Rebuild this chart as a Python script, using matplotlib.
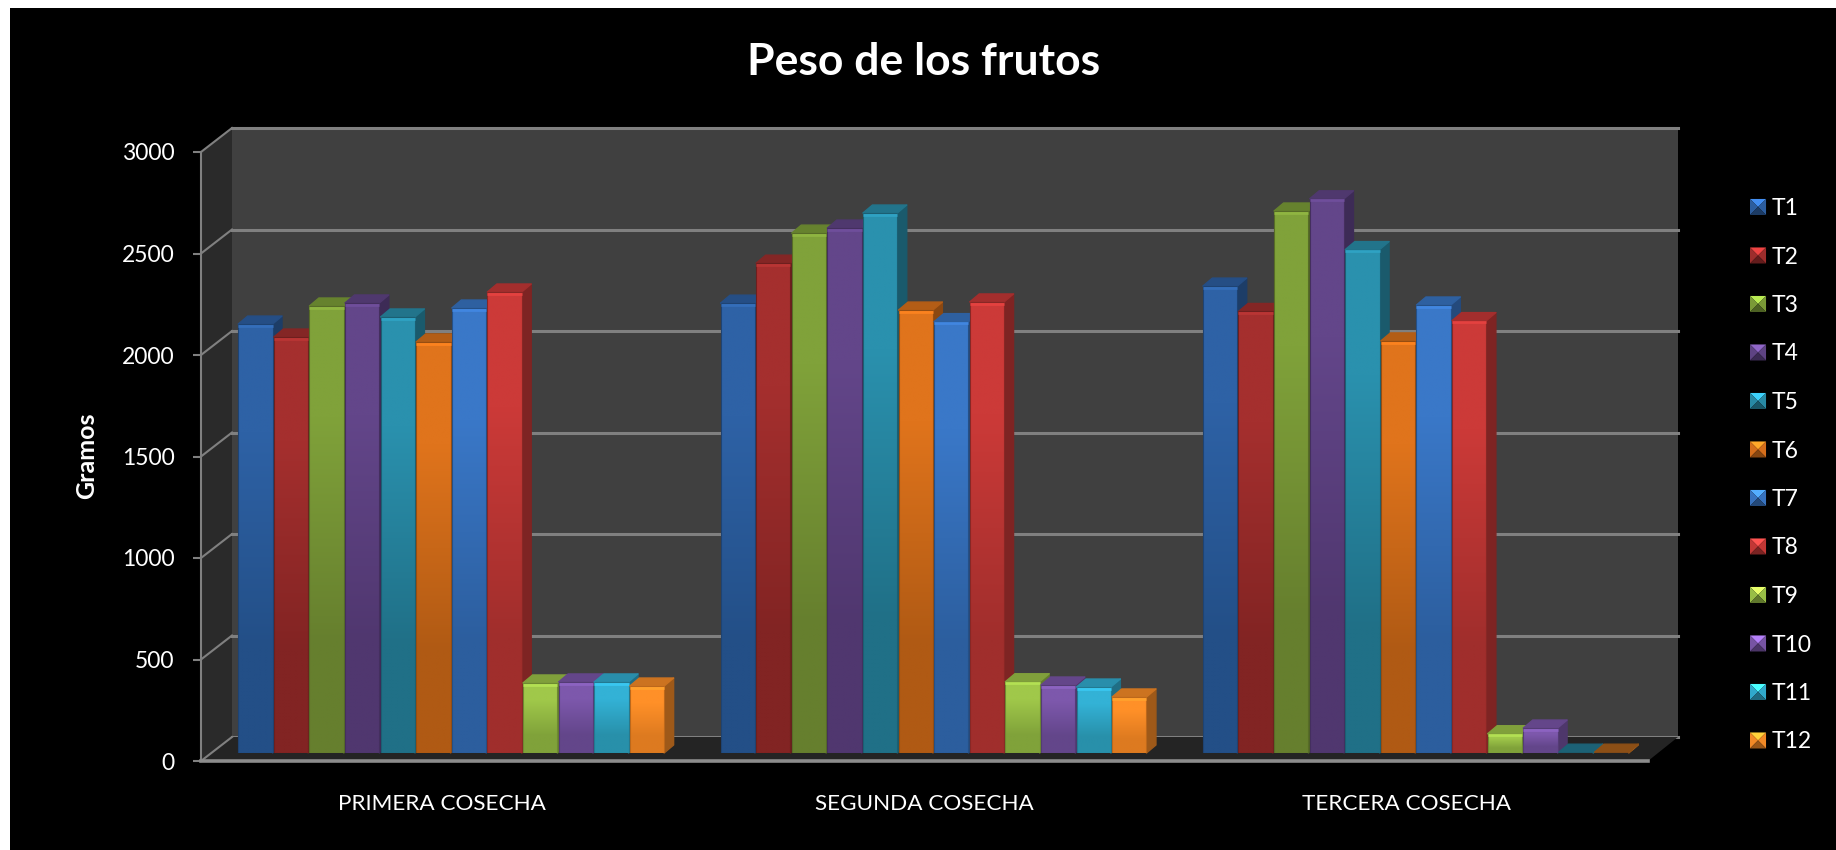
import numpy as np
import matplotlib
matplotlib.use('Agg')
import matplotlib.pyplot as plt
from matplotlib.legend_handler import HandlerBase
from matplotlib.lines import Line2D
from matplotlib.patches import Patch, Polygon, Rectangle

# data
categories = ['PRIMERA COSECHA', 'SEGUNDA COSECHA', 'TERCERA COSECHA']
series = ['T1', 'T2', 'T3', 'T4', 'T5', 'T6', 'T7', 'T8', 'T9', 'T10', 'T11', 'T12']
primera = [2113, 2049, 2202, 2217, 2148, 2025, 2192, 2271, 345, 350, 350, 330]
segunda = [2216, 2413, 2561, 2586, 2660, 2182, 2125, 2222, 351, 335, 325, 276]
tercera = [2300, 2175, 2670, 2730, 2480, 2030, 2207, 2130, 95, 123, 4, 4]
yticks = [0, 500, 1000, 1500, 2000, 2500, 3000]

top_colors = ['#2E62A6', '#A52F2E', '#80A23A', '#63468A', '#2A91AE', '#E0741C',
              '#3A78C8', '#CC3A38', '#A0C84A', '#7D58AC', '#33B2D6', '#FF9028']
low_colors = ['#234F87', '#822423', '#667F2E', '#50376F', '#207087', '#B05A14',
              '#2C5E9E', '#A02E2C', '#80A23A', '#63468A', '#2890AA', '#DD7A20']

W, H = 1836, 850
GRAY = '#808080'


def fx(x):
    return x / W


def fy(y):
    return 1 - y / H


def axesAt(left, right, top, bottom, zorder):
    return fig.add_axes([fx(left), fy(bottom), (right - left) / W, (bottom - top) / H], zorder=zorder)


def shade(color, factor):
    rgb = np.array(matplotlib.colors.to_rgb(color)) * factor
    return tuple(np.clip(rgb, 0, 1))


class PyramidHandler(HandlerBase):
    def create_artists(self, legend, orig, xd, yd, w, h, fontsize, trans):
        c = orig.get_facecolor()
        x0, y0 = -xd, -yd
        mid = (x0 + w / 2, y0 + h / 2)
        a, b, c2, d = (x0, y0), (x0 + w, y0), (x0 + w, y0 + h), (x0, y0 + h)
        faces = [((d, c2, mid), shade(c, 1.45)), ((a, d, mid), shade(c, 0.95)),
                 ((b, c2, mid), shade(c, 0.95)), ((a, b, mid), shade(c, 0.6))]
        return [Polygon(p, closed=True, facecolor=col, edgecolor='none', transform=trans) for p, col in faces]


plt.rcParams['font.family'] = ['Lato', 'DejaVu Sans']
fig = plt.figure(figsize=(W / 100, H / 100), dpi=100, facecolor='white')

# black background and the side wall + floor of the 3D box
fig.add_artist(Rectangle((fx(10), 0), 1 - fx(10), fy(8), transform=fig.transFigure, facecolor='black', edgecolor='none', zorder=-10))
side = [(201, 761), (232, 737), (232, 128), (201, 152)]
floor = [(201, 761), (232, 737), (1678, 737), (1648, 761)]
fig.add_artist(Polygon([(fx(a), fy(b)) for a, b in side], transform=fig.transFigure, facecolor='#2A2A2A', edgecolor='none', zorder=-5))
fig.add_artist(Polygon([(fx(a), fy(b)) for a, b in floor], transform=fig.transFigure, facecolor='#242424', edgecolor='none', zorder=2))

# back wall
back = axesAt(232, 1678, 128, 737, 1)
back.set_facecolor('#404040')
back.set_ylim(0, 3000)
back.set_xlim(0, 3)
back.set_yticks(yticks)
back.set_xticks([])
back.tick_params(length=0, labelleft=False)
back.grid(axis='y', color=GRAY, lw=2.2)
for line in back.yaxis.get_gridlines():
    line.set_clip_on(False)
for s in back.spines.values():
    s.set_visible(False)

# front axis, carries ticks and labels
front = axesAt(201, 1648, 152, 761, 3)
front.patch.set_visible(False)
front.set_ylim(0, 3000)
front.set_xlim(0, 3)
front.set_yticks(yticks)
front.set_xticks([0.5, 1.5, 2.5])
front.set_xticklabels(categories)
front.tick_params(axis='y', length=6, width=1.5, color=GRAY, labelcolor='white', labelsize=16.5, pad=13)
front.tick_params(axis='x', length=0, labelcolor='white', labelsize=16.2, pad=24)
front.spines['top'].set_visible(False)
front.spines['right'].set_visible(False)
front.spines['left'].set_color(GRAY)
front.spines['left'].set_linewidth(1.5)
front.spines['bottom'].set_color('#8C8C8C')
front.spines['bottom'].set_linewidth(2.6)
front.set_ylabel('Gramos', color='white', fontsize=18, fontweight='bold')
front.yaxis.set_label_coords((98 - 201) / 1447, 0.502)

# diagonals from the axis ticks back to the wall
for v in yticks:
    y = 761 - v * 609 / 3000
    fig.add_artist(Line2D([fx(201), fx(232)], [fy(y), fy(y - 24)], transform=fig.transFigure, color=GRAY, lw=1.5, zorder=2.5))

# bars plane, sits between front axis and wall
ax = axesAt(210, 1657, 144, 753, 4)
ax.patch.set_visible(False)
ax.axis('off')

pitch = 35.6 / 482.33
barWidth = 34.3 / 482.33
depthX = 9.5 / 482.33
depthY = 8 * 3000 / 609

z = 5
for g, values in enumerate([primera, segunda, tercera]):
    for i, val in enumerate(values):
        xLeft = g + 0.5 + (i - 5.5) * pitch - barWidth / 2
        xRight = xLeft + barWidth
        col = top_colors[i]

        sidePts = [(xRight, 0), (xRight + depthX, depthY), (xRight + depthX, val + depthY), (xRight, val)]
        sideCol = shade(col, 0.62)
        ax.add_patch(Polygon(sidePts, facecolor=sideCol, edgecolor=sideCol, lw=1, joinstyle='round', zorder=z, clip_on=False))
        topPts = [(xLeft, val), (xLeft + depthX, val + depthY), (xRight + depthX, val + depthY), (xRight, val)]
        topCol = shade(col, 0.55 if val < 20 else 0.8)
        ax.add_patch(Polygon(topPts, facecolor=topCol, edgecolor=topCol, lw=1, joinstyle='round', zorder=z + 1, clip_on=False))

        if val >= 20:
            bar = ax.bar(xLeft, val, barWidth, align='edge', color=col, zorder=z + 2)[0]
            grad = np.array([[matplotlib.colors.to_rgb(low_colors[i])], [matplotlib.colors.to_rgb(col)]])
            im = ax.imshow(grad, extent=(xLeft, xRight, 0, val), origin='lower', aspect='auto', interpolation='bilinear', zorder=z + 3)
            im.set_clip_path(bar)
            ax.bar(xLeft, val, barWidth, align='edge', fill=False, edgecolor=shade(low_colors[i], 0.85), lw=0.8, zorder=z + 4)
            ax.plot([xLeft, xRight], [val - 8, val - 8], color=shade(col, 1.12), lw=2, solid_capstyle='butt', zorder=z + 5)
        z += 6

ax.set_xlim(0, 3)
ax.set_ylim(0, 3000)

# legend
handles = [Patch(facecolor=top_colors[i], label=series[i]) for i in range(len(series))]
fig.legend(handles=handles, handler_map={Patch: PyramidHandler()}, loc='upper left',
           bbox_to_anchor=(fx(1750), fy(198)), frameon=False, fontsize=16.5, labelcolor='white',
           handlelength=0.7, handleheight=0.7, handletextpad=0.25, labelspacing=1.2, borderpad=0, borderaxespad=0)

fig.suptitle('Peso de los frutos', x=fx(924), y=fy(62), va='center', ha='center', color='white', fontsize=32, fontweight='bold')

fig.savefig('out.png', dpi=100, facecolor=fig.get_facecolor())
